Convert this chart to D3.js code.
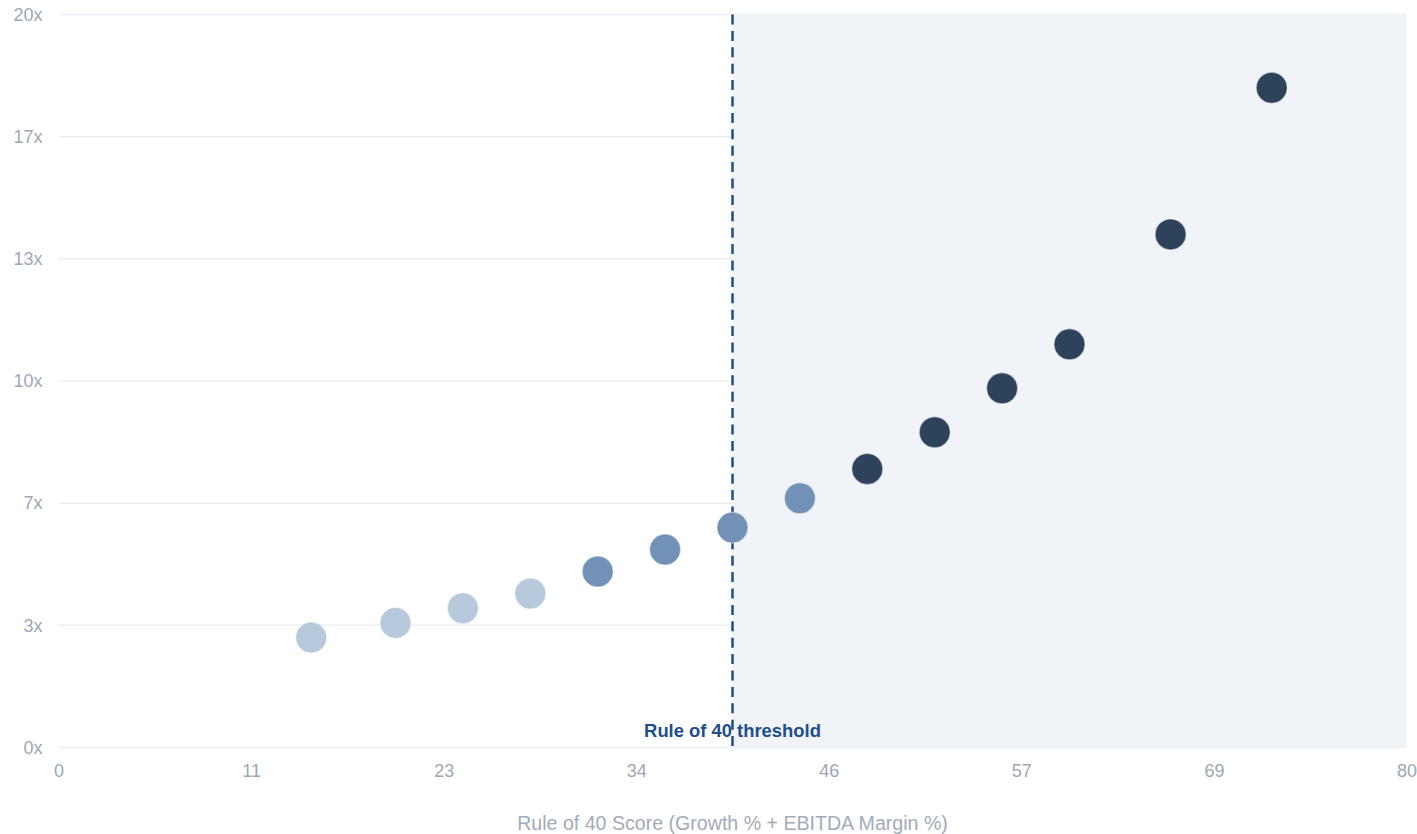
<!DOCTYPE html>
<html>
<head>
<meta charset="utf-8">
<script src="https://cdn.jsdelivr.net/npm/d3@7"></script>
<style>
  html, body { margin: 0; padding: 0; background: #ffffff; }
  svg { display: block; font-family: "Liberation Sans", Arial, Helvetica, sans-serif; }
</style>
</head>
<body>
<svg id="chart" width="1417" height="834"></svg>
<script>
// ---- data ----
const ruleOf40Scores = [15, 20, 24, 28, 32, 36, 40, 44, 48, 52, 56, 60, 66, 72];
const evMultiples    = [3.0, 3.4, 3.8, 4.2, 4.8, 5.4, 6.0, 6.8, 7.6, 8.6, 9.8, 11.0, 14.0, 18.0];
const tiers          = ["low","low","low","low","mid","mid","mid","mid","high","high","high","high","high","high"];
const tierColors     = { low: "#b7c9dd", mid: "#7192b6", high: "#2d435c" };

const xTickValues = [0, 80/7, 160/7, 240/7, 320/7, 400/7, 480/7, 80];
const xTickLabels = ["0", "11", "23", "34", "46", "57", "69", "80"];
const yTickValues = [0, 20/6, 40/6, 10, 80/6, 100/6, 20];
const yTickLabels = ["0x", "3x", "7x", "10x", "13x", "17x", "20x"];

const threshold = 40;
const thresholdLabel = "Rule of 40 threshold";
const xAxisTitle = "Rule of 40 Score (Growth % + EBITDA Margin %)";

// ---- layout ----
const W = 1417, H = 834;
const margin = { top: 14.5, right: 10.5, bottom: 86.5, left: 58.5 };
const innerW = W - margin.left - margin.right;
const innerH = H - margin.top - margin.bottom;

const svg = d3.select("#chart");
const g = svg.append("g").attr("transform", `translate(${margin.left},${margin.top})`);

const x = d3.scaleLinear().domain([0, 80]).range([0, innerW]);
const y = d3.scaleLinear().domain([0, 20]).range([innerH, 0]);

// gridlines
g.append("g").selectAll("line").data(yTickValues).join("line")
  .attr("x1", 0).attr("x2", innerW)
  .attr("y1", d => y(d)).attr("y2", d => y(d))
  .attr("stroke", "#eceef2").attr("stroke-width", 1.5);

// shaded region beyond threshold
g.append("rect")
  .attr("x", x(threshold)).attr("y", 0)
  .attr("width", x(80) - x(threshold)).attr("height", innerH)
  .attr("fill", "#eff3f7").attr("opacity", 0.92);

// y axis labels
const yAxis = d3.axisLeft(y).tickValues(yTickValues)
  .tickFormat((d, i) => yTickLabels[i]).tickSize(0).tickPadding(16);
g.append("g").call(yAxis)
  .call(s => s.select(".domain").remove())
  .call(s => s.selectAll("text").attr("fill", "#9ea7b4").attr("font-size", 18)
    .attr("font-family", "'Liberation Sans', Arial, sans-serif"));

// x axis labels
const xAxis = d3.axisBottom(x).tickValues(xTickValues)
  .tickFormat((d, i) => xTickLabels[i]).tickSize(0).tickPadding(17);
g.append("g").attr("transform", `translate(0,${innerH})`).call(xAxis)
  .call(s => s.select(".domain").remove())
  .call(s => s.selectAll("text").attr("fill", "#9ea7b4").attr("font-size", 18)
    .attr("font-family", "'Liberation Sans', Arial, sans-serif"));

// x axis title
svg.append("text")
  .attr("x", margin.left + innerW / 2).attr("y", 830)
  .attr("text-anchor", "middle")
  .attr("fill", "#a3abb8").attr("font-size", 19.6)
  .text(xAxisTitle);

// threshold label
g.append("text")
  .attr("x", x(threshold)).attr("y", innerH - 11)
  .attr("text-anchor", "middle")
  .attr("fill", "#1f4e8c").attr("font-size", 18.4).attr("font-weight", "bold")
  .text(thresholdLabel);

// threshold line
g.append("line")
  .attr("x1", x(threshold)).attr("x2", x(threshold))
  .attr("y1", 0).attr("y2", innerH)
  .attr("stroke", "#1f4e8c").attr("stroke-width", 2.5)
  .attr("stroke-dasharray", "10 6.4");

// points
const pts = ruleOf40Scores.map((s, i) => ({ s, m: evMultiples[i], t: tiers[i] }));
g.append("g").selectAll("circle").data(pts).join("circle")
  .attr("cx", d => x(d.s)).attr("cy", d => y(d.m))
  .attr("r", 15.5)
  .attr("fill", d => tierColors[d.t])
  .attr("stroke", "#ffffff").attr("stroke-opacity", 0.5).attr("stroke-width", 1);
</script>
</body>
</html>
